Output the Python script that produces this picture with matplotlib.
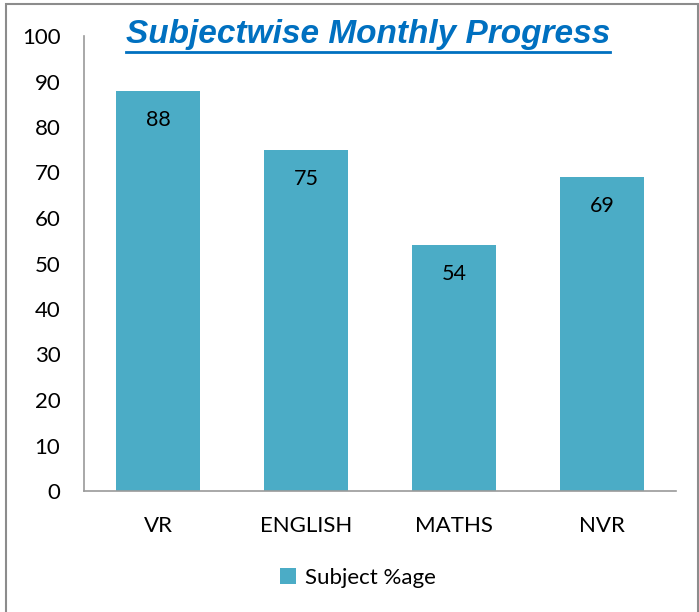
import numpy as np
import matplotlib
matplotlib.use("Agg")
import matplotlib.pyplot as plt
from matplotlib.lines import Line2D
from matplotlib.patches import Rectangle

subjects = ["VR", "ENGLISH", "MATHS", "NVR"]
percent = [88, 75, 54, 69]
series_name = "Subject %age"

W, H = 699, 612
fig = plt.figure(figsize=(W / 100, H / 100), dpi=100)
fig.patch.set_facecolor("white")

# chart frame (bottom runs off the picture)
fig.patches.append(Rectangle((6 / W, -0.05), (W - 7.5) / W, (H - 4) / H + 0.05,
                             transform=fig.transFigure, fill=False,
                             edgecolor="#8c8c8c", linewidth=1.5))

ax = fig.add_axes([84 / W, 1 - 491 / H, (676 - 84) / W, (491 - 36) / H])
x = np.arange(len(subjects))
bar_color = "#4BACC6"
bars = ax.bar(x, percent, width=0.57, color=bar_color, label=series_name)

ax.set_xlim(-0.5, len(subjects) - 0.5)
ax.set_ylim(0, 100)
ax.set_yticks(range(0, 101, 10))
ax.set_xticks(x)
ax.set_xticklabels(subjects)
ax.tick_params(length=0, labelsize=16, pad=18)
ax.tick_params(axis="y", pad=17)
for lab in ax.get_xticklabels() + ax.get_yticklabels():
    lab.set_fontfamily("Lato")
for s in ["top", "right"]:
    ax.spines[s].set_visible(False)
for s in ["left", "bottom"]:
    ax.spines[s].set_color("#9a9a9a")
    ax.spines[s].set_linewidth(1.2)

for xi, v in zip(x, percent):
    ax.annotate(str(v), (xi, v), xytext=(0, -21), textcoords="offset points",
                ha="center", va="center", fontsize=15.5, family="Lato", color="black")

leg = fig.legend(handles=[bars], labels=[series_name], loc="center",
                 bbox_to_anchor=(358 / W, 1 - 578 / H), frameon=False,
                 prop={"family": "Lato", "size": 16}, handlelength=0.75,
                 handleheight=0.75, handletextpad=0.4)

title = fig.text(368 / W, 1 - 34 / H, "Subjectwise Monthly Progress",
                 ha="center", va="center", fontsize=24, fontweight="bold",
                 fontstyle="italic", family="Liberation Sans", color="#0070C0")

# underline under the title
fig.canvas.draw()
bb = title.get_window_extent().transformed(fig.transFigure.inverted())
fig.lines.append(Line2D([bb.x0, bb.x1], [1 - 52 / H, 1 - 52 / H],
                        transform=fig.transFigure, color="#0070C0", linewidth=2))

fig.savefig("out.png", dpi=100)
